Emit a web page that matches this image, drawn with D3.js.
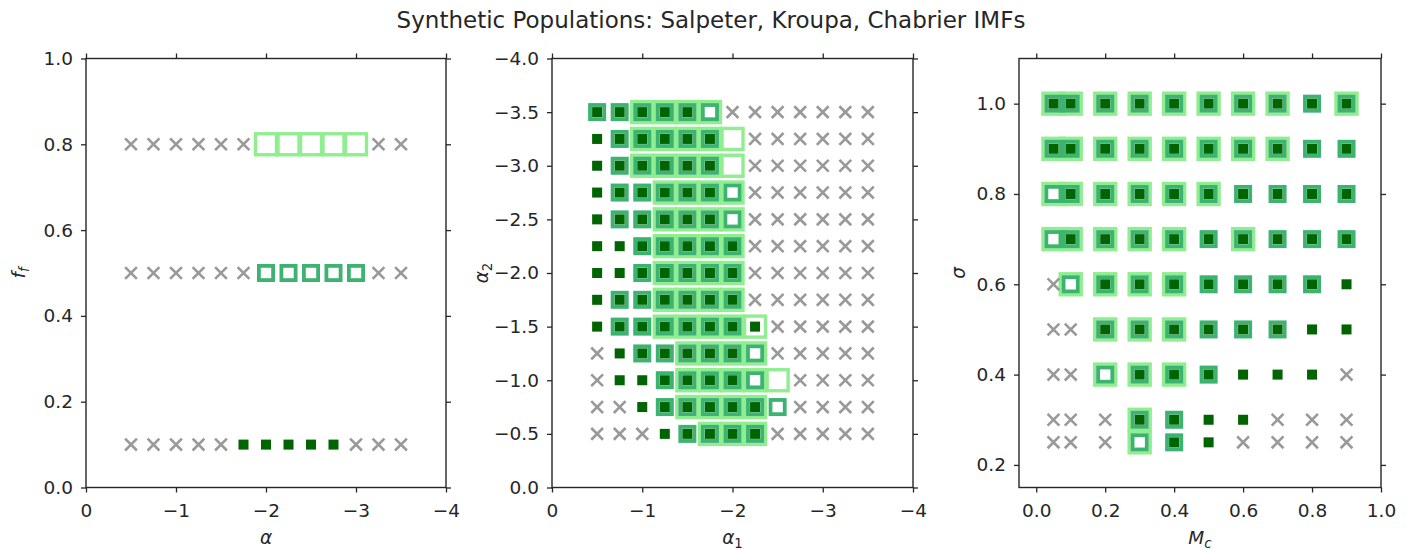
<!DOCTYPE html>
<html><head><meta charset="utf-8">
<script src="https://cdn.jsdelivr.net/npm/d3@7"></script>
<style>body{margin:0;background:#fff} text{font-family:"DejaVu Sans",sans-serif}</style>
</head><body><svg id="c" width="1422" height="550"></svg>
<script>
const chartTitle = "Synthetic Populations: Salpeter, Kroupa, Chabrier IMFs";

// Salpeter: alpha vs f_f
const salpeterAlpha = [-0.5,-0.75,-1.0,-1.25,-1.5,-1.75,-2.0,-2.25,-2.5,-2.75,-3.0,-3.25,-3.5];
const salpeterFf = [0.8, 0.5, 0.1];
const salpeterGrid = [
  ["X","X","X","X","X","X","L","L","L","L","L","X","X"],
  ["X","X","X","X","X","X","M","M","M","M","M","X","X"],
  ["X","X","X","X","X","S","S","S","S","S","X","X","X"]
];

// Kroupa: alpha1 vs alpha2
const kroupaAlpha1 = [-0.5,-0.75,-1.0,-1.25,-1.5,-1.75,-2.0,-2.25,-2.5,-2.75,-3.0,-3.25,-3.5];
const kroupaAlpha2 = [-3.5,-3.25,-3.0,-2.75,-2.5,-2.25,-2.0,-1.75,-1.5,-1.25,-1.0,-0.75,-0.5];
const kroupaGrid = [
  ["MS","MS","LMS","LMS","LMS","LM","X","X","X","X","X","X","X"],
  ["S","MS","LMS","LMS","LMS","LMS","L","X","X","X","X","X","X"],
  ["S","MS","LMS","LMS","LMS","LMS","L","X","X","X","X","X","X"],
  ["S","MS","MS","LMS","LMS","LMS","LM","X","X","X","X","X","X"],
  ["S","MS","MS","LMS","LMS","LMS","LM","X","X","X","X","X","X"],
  ["S","S","MS","LMS","LMS","LMS","LMS","X","X","X","X","X","X"],
  ["S","S","MS","LMS","LMS","LMS","LMS","X","X","X","X","X","X"],
  ["S","MS","MS","LMS","LMS","LMS","LMS","X","X","X","X","X","X"],
  ["S","MS","MS","LMS","LMS","LMS","LMS","LS","X","X","X","X","X"],
  ["X","S","MS","MS","LMS","LMS","LMS","LM","X","X","X","X","X"],
  ["X","S","S","MS","LMS","LMS","LMS","LM","L","X","X","X","X"],
  ["X","X","S","MS","LMS","LMS","LMS","LMS","M","X","X","X","X"],
  ["X","X","X","S","MS","LMS","LMS","LMS","X","X","X","X","X"]
];

// Chabrier: Mc vs sigma
const chabrierMc = [0.05,0.1,0.2,0.3,0.4,0.5,0.6,0.7,0.8,0.9];
const chabrierSigma = [1.0,0.9,0.8,0.7,0.6,0.5,0.4,0.3,0.25];
const chabrierGrid = [
  ["LMS","LMS","LMS","LMS","LMS","LMS","LMS","LMS","MS","LMS"],
  ["LMS","LMS","LMS","LMS","LMS","LMS","LMS","LMS","MS","MS"],
  ["LM","LMS","LMS","LMS","LMS","LMS","MS","MS","MS","MS"],
  ["LM","LMS","LMS","LMS","LMS","MS","LMS","MS","MS","MS"],
  ["X","LM","LMS","LMS","LMS","MS","MS","MS","MS","S"],
  ["X","X","LMS","LMS","LMS","MS","MS","MS","S","S"],
  ["X","X","LM","LMS","LMS","MS","S","S","S","X"],
  ["X","X","X","LMS","MS","S","S","X","X","X"],
  ["X","X","X","LM","MS","S","X","X","X","X"]
];

// tick values
const alphaTicks = [0,-1,-2,-3,-4];
const ffTicks = [0.0,0.2,0.4,0.6,0.8,1.0];
const alpha2Ticks = [0.0,-0.5,-1.0,-1.5,-2.0,-2.5,-3.0,-3.5,-4.0];
const mcTicks = [0.0,0.2,0.4,0.6,0.8,1.0];
const sigmaTicks = [0.2,0.4,0.6,0.8,1.0];

const svg = d3.select("#c");
const FS = 18.5;
const INK = "#262626";

svg.append("text").attr("x", 711).attr("y", 28).attr("text-anchor","middle")
  .attr("font-size", 23).attr("fill", INK).text(chartTitle);

const TOP = 58.5, BOTTOM = 487.5;
const panels = [
  {left:86, right:446, xDomain:[0,-4], yDomain:[0,1], xTicks:alphaTicks, yTicks:ffTicks,
   xFmt:d3.format("d"), yFmt:d3.format(".1f"), xs:salpeterAlpha, ys:salpeterFf, grid:salpeterGrid,
   xLabel:[["α","italic",0]], yLabel:[["f","italic",0],["f","italic",1]], yLabelX:25, xLabelY:544},
  {left:552, right:913, xDomain:[0,-4], yDomain:[0,-4], xTicks:alphaTicks, yTicks:alpha2Ticks,
   xFmt:d3.format("d"), yFmt:d3.format(".1f"), xs:kroupaAlpha1, ys:kroupaAlpha2, grid:kroupaGrid,
   xLabel:[["α","italic",0],["1","normal",1]], yLabel:[["α","italic",0],["2","normal",1]], yLabelX:488, xLabelY:544},
  {left:1019, right:1381, xDomain:[-0.05,1.0], yDomain:[0.15,1.1], xTicks:mcTicks, yTicks:sigmaTicks,
   xFmt:d3.format(".1f"), yFmt:d3.format(".1f"), xs:chabrierMc, ys:chabrierSigma, grid:chabrierGrid,
   xLabel:[["M","italic",0],["c","italic",1]], yLabel:[["σ","italic",0]], yLabelX:965, xLabelY:544}
];

const COL = {L:"#90ee90", M:"#3cb371", S:"#006400", X:"#999999"};

function richText(g, parts, size){
  const t = g.append("text").attr("font-size", size).attr("fill", INK);
  parts.forEach(([s, style, sub]) => {
    const ts = t.append("tspan").attr("font-style", style).text(s);
    if (sub) ts.attr("font-size", size*0.72).attr("dy", size*0.22);
  });
  return t;
}

panels.forEach(p => {
  const x = d3.scaleLinear().domain(p.xDomain).range([p.left, p.right]);
  const y = d3.scaleLinear().domain(p.yDomain).range([BOTTOM, TOP]);
  const g = svg.append("g");

  const cells = [];
  p.ys.forEach((yv, i) => p.xs.forEach((xv, j) => cells.push({x:xv, y:yv, code:p.grid[i][j]})));

  const Lh = 10.5, Mh = 7.1, Sh = 5.0;
  g.selectAll("rect.L").data(cells.filter(c => c.code.includes("L"))).join("rect")
    .attr("x", c => x(c.x)-Lh).attr("y", c => y(c.y)-Lh).attr("width", 2*Lh).attr("height", 2*Lh)
    .attr("fill","none").attr("stroke", COL.L).attr("stroke-width", 3.4);
  g.selectAll("rect.M").data(cells.filter(c => c.code.includes("M"))).join("rect")
    .attr("x", c => x(c.x)-Mh).attr("y", c => y(c.y)-Mh).attr("width", 2*Mh).attr("height", 2*Mh)
    .attr("fill","none").attr("stroke", COL.M).attr("stroke-width", 3.8);
  g.selectAll("rect.S").data(cells.filter(c => c.code.includes("S"))).join("rect")
    .attr("x", c => x(c.x)-Sh).attr("y", c => y(c.y)-Sh).attr("width", 2*Sh).attr("height", 2*Sh)
    .attr("fill", COL.S);
  const xr = 5.9;
  g.selectAll("path.X").data(cells.filter(c => c.code === "X")).join("path")
    .attr("d", c => { const cx = x(c.x), cy = y(c.y);
      return `M${cx-xr},${cy-xr}L${cx+xr},${cy+xr}M${cx-xr},${cy+xr}L${cx+xr},${cy-xr}`; })
    .attr("stroke", COL.X).attr("stroke-width", 2.6).attr("fill","none");

  const styleAxis = a => { a.select(".domain").remove();
    a.selectAll(".tick line").attr("stroke", INK).attr("stroke-width", 1.3);
    a.selectAll(".tick text").attr("fill", INK).attr("font-size", FS).attr("font-family", '"DejaVu Sans",sans-serif'); };
  g.append("g").attr("transform", `translate(0,${BOTTOM})`)
    .call(d3.axisBottom(x).tickValues(p.xTicks).tickFormat(p.xFmt).tickSize(5).tickPadding(11)).call(styleAxis);
  g.append("g").attr("transform", `translate(0,${TOP})`)
    .call(d3.axisTop(x).tickValues(p.xTicks).tickFormat("").tickSize(5)).call(styleAxis);
  g.append("g").attr("transform", `translate(${p.left},0)`)
    .call(d3.axisLeft(y).tickValues(p.yTicks).tickFormat(p.yFmt).tickSize(5).tickPadding(8)).call(styleAxis);
  g.append("g").attr("transform", `translate(${p.right},0)`)
    .call(d3.axisRight(y).tickValues(p.yTicks).tickFormat("").tickSize(5)).call(styleAxis);

  g.append("rect").attr("x", p.left).attr("y", TOP).attr("width", p.right-p.left).attr("height", BOTTOM-TOP)
    .attr("fill","none").attr("stroke", INK).attr("stroke-width", 1.4);

  richText(g, p.xLabel, FS).attr("x", (p.left+p.right)/2).attr("y", p.xLabelY).attr("text-anchor","middle");
  richText(g, p.yLabel, FS).attr("text-anchor","middle")
    .attr("transform", `translate(${p.yLabelX},${(TOP+BOTTOM)/2}) rotate(-90)`);
});
</script></body></html>
